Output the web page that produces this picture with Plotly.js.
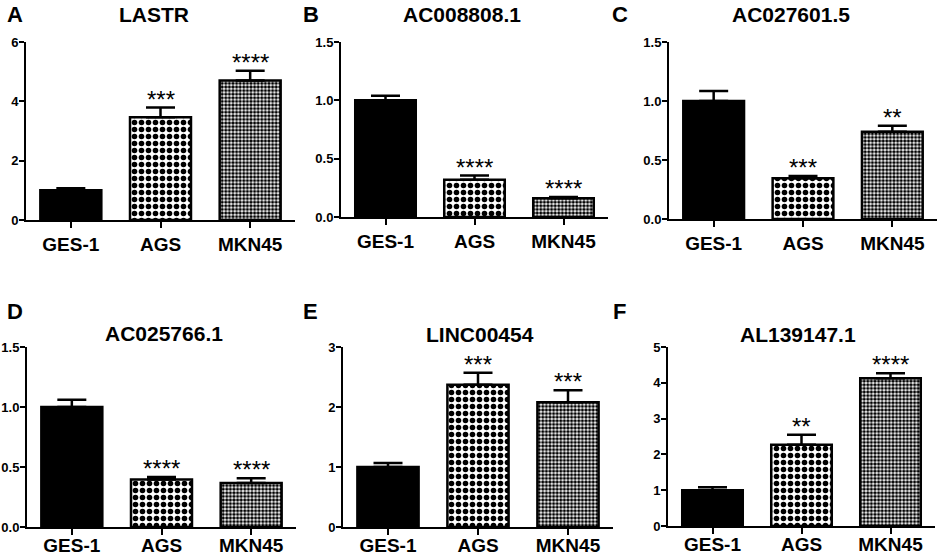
<!DOCTYPE html>
<html>
<head>
<meta charset="utf-8">
<script src="https://cdn.plot.ly/plotly-3.0.1.min.js"></script>
<style>
  html, body { margin: 0; padding: 0; background: #fff; }
  #myDiv { width: 941px; height: 558px; }
</style>
</head>
<body>
<div id="myDiv"></div>
<script>
// cell lines on the x axis
var categories = ['GES-1', 'AGS', 'MKN45'];

var panelLetters = ['A', 'B', 'C', 'D', 'E', 'F'];
var geneNames = ['LASTR', 'AC008808.1', 'AC027601.5', 'AC025766.1', 'LINC00454', 'AL139147.1'];

// relative expression (mean) and upper error (SEM)
var lastrMean = [1.00, 3.46, 4.70];
var lastrErr = [0.07, 0.33, 0.33];
var ac008808Mean = [1.00, 0.32, 0.16];
var ac008808Err = [0.04, 0.035, 0.012];
var ac027601Mean = [1.00, 0.345, 0.74];
var ac027601Err = [0.085, 0.02, 0.05];
var ac025766Mean = [1.00, 0.395, 0.367];
var ac025766Err = [0.06, 0.022, 0.04];
var linc00454Mean = [1.00, 2.37, 2.08];
var linc00454Err = [0.067, 0.20, 0.20];
var al139147Mean = [1.00, 2.27, 4.13];
var al139147Err = [0.08, 0.28, 0.14];

// significance marks vs GES-1
var lastrStars = ['', '***', '****'];
var ac008808Stars = ['', '****', '****'];
var ac027601Stars = ['', '***', '**'];
var ac025766Stars = ['', '****', '****'];
var linc00454Stars = ['', '***', '***'];
var al139147Stars = ['', '**', '****'];

// y axis tops and tick steps
var yTops = [6, 1.5, 1.5, 1.5, 3, 5];
var yTicks = [2, 0.5, 0.5, 0.5, 1, 1];

var means = [lastrMean, ac008808Mean, ac027601Mean, ac025766Mean, linc00454Mean, al139147Mean];
var errs = [lastrErr, ac008808Err, ac027601Err, ac025766Err, linc00454Err, al139147Err];
var stars = [lastrStars, ac008808Stars, ac027601Stars, ac025766Stars, linc00454Stars, al139147Stars];

// plot boxes in pixels: [left, right, top, bottom]
var W = 941, H = 558;
var boxes = [
  [26, 295, 42, 220],
  [341, 608, 42, 217],
  [669, 937, 42, 219],
  [27, 296, 347, 527],
  [343, 613, 347, 527],
  [668, 935, 347, 526]
];
var titlePos = [[154, 14], [462, 14], [791, 15], [164, 333], [480, 335], [798, 335]];
var letterPos = [[15, 14], [311, 14], [620, 14], [15, 312], [310, 312], [619, 312]];

var FONT = 'Arial, "Liberation Sans", sans-serif';

var data = [];
var layout = {
  width: W, height: H,
  margin: {l: 0, r: 0, t: 0, b: 0},
  showlegend: false,
  paper_bgcolor: '#fff',
  plot_bgcolor: 'rgba(0,0,0,0)',
  font: {family: FONT, color: '#000'},
  annotations: []
};

for (var i = 0; i < 6; i++) {
  var n = i === 0 ? '' : String(i + 1);
  var b = boxes[i];
  data.push({
    type: 'bar',
    x: categories,
    y: means[i],
    xaxis: 'x' + n,
    yaxis: 'y' + n,
    width: 0.68,
    marker: {
      color: '#000',
      line: {color: '#000', width: 2.5},
      pattern: {
        shape: ['', '.', '.'],
        size: [7, 7, 3.6],
        solidity: [0.5, 0.5, 0.62],
        fgcolor: '#000',
        bgcolor: '#fff',
        fillmode: 'replace'
      }
    },
    error_y: {
      type: 'data',
      symmetric: false,
      array: errs[i],
      arrayminus: [0, 0, 0],
      color: '#000',
      thickness: 2.5,
      width: 14.5
    },
    hoverinfo: 'x+y'
  });

  var row2 = i >= 3;
  layout['xaxis' + n] = {
    domain: [b[0] / W, b[1] / W],
    anchor: 'y' + n,
    range: [-0.5, 2.5],
    showline: true, linecolor: '#000', linewidth: 2,
    ticks: 'outside', ticklen: 6, tickwidth: 2, tickcolor: '#000',
    showgrid: false, zeroline: false,
    tickfont: {family: FONT, size: 19, weight: 'bold', color: '#000'},
    ticklabelstandoff: row2 ? -6 : 0,
    fixedrange: true
  };
  layout['yaxis' + n] = {
    domain: [1 - b[3] / H, 1 - b[2] / H],
    anchor: 'x' + n,
    range: [0, yTops[i]],
    dtick: yTicks[i],
    tick0: 0,
    tickformat: yTicks[i] < 1 ? '.1f' : 'd',
    showline: true, linecolor: '#000', linewidth: 2,
    ticks: 'outside', ticklen: 5, tickwidth: 2, tickcolor: '#000',
    showgrid: false, zeroline: false,
    tickfont: {family: FONT, size: 13, weight: 'bold', color: '#000'},
    ticklabelstandoff: -2,
    fixedrange: true
  };

  // gene title and panel letter
  layout.annotations.push({
    xref: 'paper', yref: 'paper',
    x: titlePos[i][0] / W, y: 1 - titlePos[i][1] / H,
    xanchor: 'center', yanchor: 'middle',
    text: geneNames[i], showarrow: false,
    font: {family: FONT, size: 21, weight: 'bold', color: '#000'}
  });
  layout.annotations.push({
    xref: 'paper', yref: 'paper',
    x: letterPos[i][0] / W, y: 1 - letterPos[i][1] / H,
    xanchor: 'center', yanchor: 'middle',
    text: panelLetters[i], showarrow: false,
    font: {family: FONT, size: 22, weight: 'bold', color: '#000'}
  });

  // significance stars above the error caps
  for (var j = 0; j < categories.length; j++) {
    if (!stars[i][j]) continue;
    layout.annotations.push({
      xref: 'x' + n, yref: 'y' + n,
      x: categories[j], y: means[i][j] + errs[i][j],
      xanchor: 'center', yanchor: 'bottom',
      yshift: -7,
      text: stars[i][j], showarrow: false,
      font: {family: FONT, size: 24, color: '#000'}
    });
  }
}

Plotly.newPlot('myDiv', data, layout, {staticPlot: true});
</script>
</body>
</html>
